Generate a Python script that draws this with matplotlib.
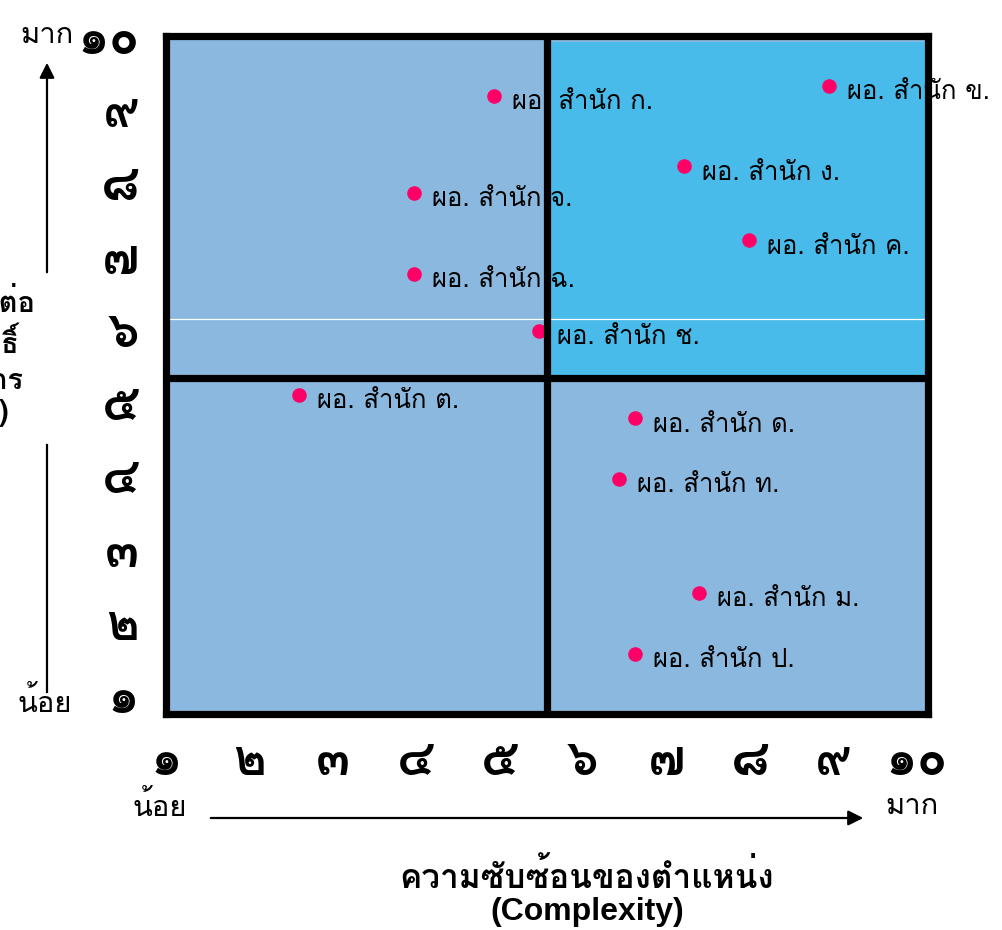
import numpy as np
import matplotlib
matplotlib.use("Agg")
import matplotlib.pyplot as plt
from matplotlib.patches import Rectangle, FancyArrowPatch
from matplotlib.lines import Line2D

plt.rcParams["font.family"] = ["Loma", "DejaVu Sans"]

# Positions of each office: complexity (x) and impact (y)
offices = ["ผอ. สำนัก ก.", "ผอ. สำนัก ข.", "ผอ. สำนัก ง.", "ผอ. สำนัก จ.",
           "ผอ. สำนัก ค.", "ผอ. สำนัก ฉ.", "ผอ. สำนัก ช.", "ผอ. สำนัก ต.",
           "ผอ. สำนัก ด.", "ผอ. สำนัก ท.", "ผอ. สำนัก ม.", "ผอ. สำนัก ป."]
complexity = [4.3, 8.7, 6.8, 3.25, 7.65, 3.25, 4.9, 1.75, 6.15, 5.95, 7.0, 6.15]
impact = [9.2, 9.35, 8.15, 7.75, 7.05, 6.55, 5.7, 4.75, 4.4, 3.5, 1.8, 0.9]

scale_labels = ["๑", "๒", "๓", "๔", "๕", "๖", "๗", "๘", "๙", "๑๐"]

x_title_th = "ความซับซ้อนของตำแหน่ง"
x_title_en = "(Complexity)"
y_title = "ผลกระทบต่อ\nผลสัมฤทธิ์\nขององค์กร\n(Impact)"
low_txt, high_txt = "น้อย", "มาก"

quad_light = "#8AB8DE"
quad_bright = "#48BBEA"
dot_color = "#FF0066"

W, H = 1003, 930
fig = plt.figure(figsize=(W / 100, H / 100), dpi=100)
ax = fig.add_axes([166 / W, 1 - 714 / H, (928 - 166) / W, (714 - 36) / H])
ax.set_xlim(0, 10)
ax.set_ylim(0, 10)
ax.set_facecolor(quad_light)

# Upper-right quadrant highlighted
ax.add_patch(Rectangle((5, 5), 5, 5, facecolor=quad_bright, edgecolor="none", zorder=0.5))
ax.axhline(5.88, color="white", lw=0.9, zorder=0.6)

# Quadrant dividers and frame
ax.axvline(5, color="black", lw=5.2, zorder=5)
ax.axhline(5, color="black", lw=5.2, zorder=5)
for s in ax.spines.values():
    s.set_linewidth(5.2)
    s.set_color("black")
    s.set_zorder(6)

ax.scatter(complexity, impact, s=110, color=dot_color, zorder=3, linewidths=0)
for name, cx, iy in zip(offices, complexity, impact):
    ax.annotate(name, (cx, iy), xytext=(13, -4.5), textcoords="offset points",
                ha="left", va="center", fontsize=18.5, zorder=4, annotation_clip=False)

# Scale labels along both axes
xpos = np.linspace(0, 9.85, len(scale_labels))
ypos = np.linspace(0.28, 10.09, len(scale_labels))
ax.set_xticks(xpos, scale_labels)
ax.set_yticks(ypos, scale_labels)
ax.tick_params(axis="x", length=0, labelsize=36, pad=18)
ax.tick_params(axis="y", length=0, labelsize=36, pad=19)
for t in ax.get_xticklabels() + ax.get_yticklabels():
    t.set_fontweight("bold")

# Axis direction arrows and captions
fig.add_artist(FancyArrowPatch(
    (47 / W, 1 - 275 / H), (47 / W, 1 - 60 / H), transform=fig.transFigure,
    arrowstyle="-|>,head_length=9,head_width=4.5", color="black", lw=1.6))
fig.add_artist(Line2D([47 / W, 47 / W], [1 - 445 / H, 1 - 692 / H],
                      transform=fig.transFigure, color="black", lw=1.6))
fig.add_artist(FancyArrowPatch(
    (208 / W, 1 - 818 / H), (866 / W, 1 - 818 / H), transform=fig.transFigure,
    arrowstyle="-|>,head_length=9,head_width=4.5", color="black", lw=1.6))

fig.text(47 / W, 1 - 35 / H, high_txt, ha="center", va="center", fontsize=21)
fig.text(45 / W, 1 - 703 / H, low_txt, ha="center", va="center", fontsize=21)
fig.text(160 / W, 1 - 806 / H, low_txt, ha="center", va="center", fontsize=21)
fig.text(912 / W, 1 - 806 / H, high_txt, ha="center", va="center", fontsize=21)

fig.text(587 / W, 1 - 876 / H, x_title_th, ha="center", va="center", fontsize=24,
         fontweight="bold")
fig.text(587 / W, 1 - 912 / H, x_title_en, ha="center", va="center", fontsize=23,
         fontweight="bold", family=["Liberation Sans", "DejaVu Sans"])
fig.text(-44 / W, 1 - 358 / H, y_title, ha="center", va="center", fontsize=21,
         fontweight="bold", linespacing=1.2, multialignment="center")

fig.savefig("out.png", dpi=100)
